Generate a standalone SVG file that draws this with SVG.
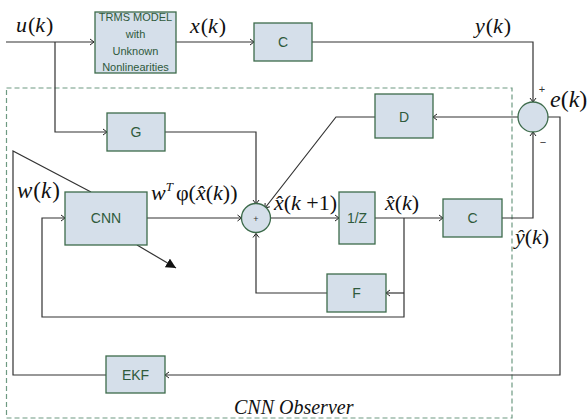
<svg xmlns="http://www.w3.org/2000/svg" width="587" height="419" viewBox="0 0 587 419">
<style>
.box{fill:#d5dfea;stroke:#3d6b4b;stroke-width:1.3}
.lbl{font-family:"Liberation Sans",Arial,sans-serif;font-size:14px;fill:#2f5a3c;text-anchor:middle}
.small{font-size:11px}
.ln{fill:none;stroke:#333;stroke-width:1.2}
.math{font-family:"Liberation Serif","Times New Roman",serif;font-size:22px;fill:#111}
.it{font-style:italic}
.sign{font-family:"Liberation Sans",Arial,sans-serif;font-size:11px;fill:#333;text-anchor:middle}
</style>
<defs>
<marker id="arr" markerWidth="8" markerHeight="8" refX="6" refY="4" orient="auto" markerUnits="userSpaceOnUse">
<path d="M2,1 L6,4 L2,7" fill="none" stroke="#222" stroke-width="1"/>
</marker>
<marker id="tri" markerWidth="12" markerHeight="10" refX="10" refY="5" orient="auto" markerUnits="userSpaceOnUse">
<path d="M0,0 L10,5 L0,10 z" fill="#111"/>
</marker>
</defs>
<rect x="6.5" y="88" width="505.5" height="330" fill="none" stroke="#6e9a82" stroke-width="1.2" stroke-dasharray="5,3"/>
<g id="connectors">
<path class="ln" d="M6 42 H94" marker-end="url(#arr)"/>
<path class="ln" d="M176 42 H254" marker-end="url(#arr)"/>
<path class="ln" d="M312 42 H533 V102" marker-end="url(#arr)"/>
<path class="ln" d="M55 42 V132 H107" marker-end="url(#arr)"/>
<path class="ln" d="M165 132 H256 V204" marker-end="url(#arr)"/>
<path class="ln" d="M518 117 H433" marker-end="url(#arr)"/>
<path class="ln" d="M375 117 H336 L265 208" marker-end="url(#arr)"/>
<path class="ln" d="M147 218 H241.5" marker-end="url(#arr)"/>
<path class="ln" d="M270.5 218 H339" marker-end="url(#arr)"/>
<path class="ln" d="M375 218 H443" marker-end="url(#arr)"/>
<path class="ln" d="M502 218 H533 V132" marker-end="url(#arr)"/>
<path class="ln" d="M404 218 V317 H42 V218 H65" marker-end="url(#arr)"/>
<path class="ln" d="M404 293 H386" marker-end="url(#arr)"/>
<path class="ln" d="M327 293 H256 V233.5" marker-end="url(#arr)"/>
<path class="ln" d="M548 117 H560 V375 H165" marker-end="url(#arr)"/>
<path class="ln" d="M106 375 H13 V151 L91 192"/>
<path class="ln" d="M137 245 L176 268" marker-end="url(#tri)"/>
</g>
<g id="trms"><rect class="box" x="95" y="12" width="81" height="61"/>
<text class="lbl small" x="135.5" y="21">TRMS MODEL</text>
<text class="lbl small" x="135.5" y="38">with</text>
<text class="lbl small" x="135.5" y="55">Unknown</text>
<text class="lbl small" x="135.5" y="71">Nonlinearities</text></g>
<g id="c1"><rect class="box" x="254" y="23" width="58" height="38"/><text class="lbl" x="283" y="47">C</text></g>
<g id="g"><rect class="box" x="107" y="113" width="58" height="38"/><text class="lbl" x="136" y="137">G</text></g>
<g id="d"><rect class="box" x="375" y="94" width="58" height="44"/><text class="lbl" x="404" y="122">D</text></g>
<g id="cnn"><rect class="box" x="65" y="192" width="82" height="53"/><text class="lbl" x="106" y="223">CNN</text></g>
<g id="sum1"><circle class="box" cx="256" cy="218" r="14.5"/><text class="sign" x="256" y="222" style="font-size:9px">+</text></g>
<g id="z"><rect class="box" x="339" y="192" width="36" height="52"/><text class="lbl" x="357" y="223">1/Z</text></g>
<g id="c2"><rect class="box" x="443" y="199" width="59" height="38"/><text class="lbl" x="472.5" y="223">C</text></g>
<g id="f"><rect class="box" x="327" y="274" width="59" height="38"/><text class="lbl" x="356.5" y="298">F</text></g>
<g id="ekf"><rect class="box" x="106" y="356" width="59" height="37"/><text class="lbl" x="135.5" y="380">EKF</text></g>
<g id="sum2"><circle class="box" cx="533" cy="117" r="15"/>
<text class="sign" x="542" y="93">+</text><text class="sign" x="543" y="146">−</text></g>
<g id="labels">
<text class="math" x="16" y="32"><tspan class="it">u</tspan><tspan dx="1">(</tspan><tspan class="it">k</tspan><tspan dx="1">)</tspan></text>
<text class="math" x="190" y="33"><tspan class="it">x</tspan><tspan dx="1">(</tspan><tspan class="it">k</tspan><tspan dx="1">)</tspan></text>
<text class="math" x="475" y="33"><tspan class="it">y</tspan><tspan dx="1">(</tspan><tspan class="it">k</tspan><tspan dx="1">)</tspan></text>
<text class="math" x="550" y="107" style="font-size:24px"><tspan class="it">e</tspan>(<tspan class="it">k</tspan>)</text>
<text class="math" x="17" y="198" style="font-size:23px"><tspan class="it">w</tspan><tspan dx="1">(</tspan><tspan class="it">k</tspan><tspan dx="1">)</tspan></text>
<text class="math" x="151" y="200"><tspan class="it">w</tspan><tspan class="it" dy="-9" style="font-size:13px">T</tspan><tspan dy="9" dx="3">φ(</tspan><tspan class="it">x̂</tspan>(<tspan class="it">k</tspan>))</text>
<text class="math" x="274" y="210"><tspan class="it">x̂</tspan>(<tspan class="it">k</tspan> +1)</text>
<text class="math" x="385" y="210"><tspan class="it">x̂</tspan>(<tspan class="it">k</tspan>)</text>
<text class="math" x="515" y="244"><tspan class="it">ŷ</tspan>(<tspan class="it">k</tspan>)</text>
<text class="math it" x="234" y="414" style="font-size:20px">CNN Observer</text>
</g>
</svg>
